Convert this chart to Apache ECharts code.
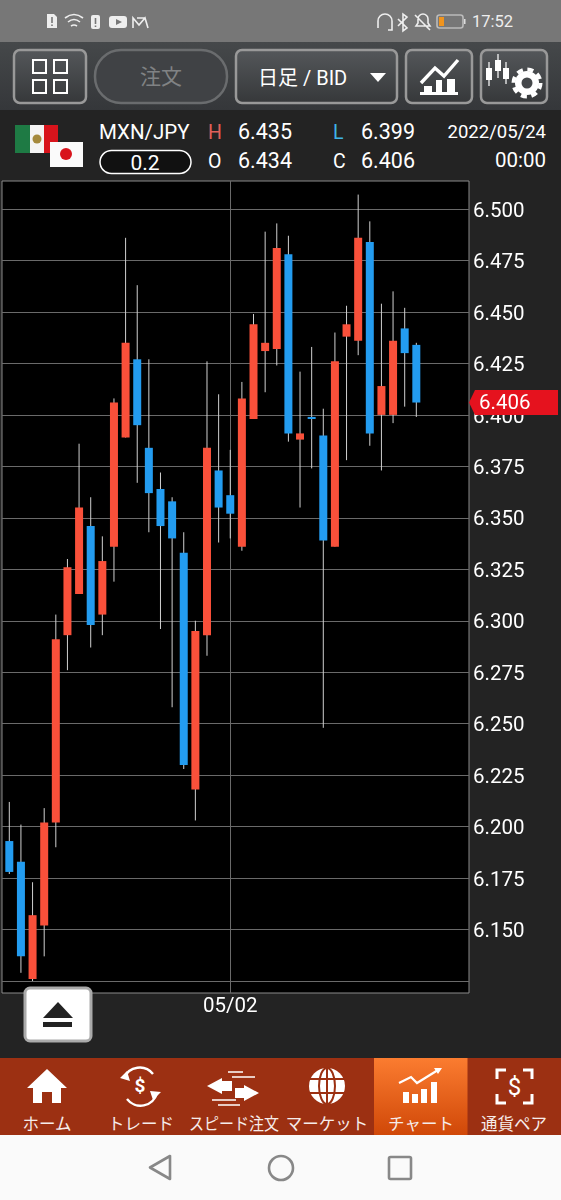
<!DOCTYPE html>
<html>
<head>
<meta charset="utf-8">
<title>MXN/JPY</title>
<script src="https://cdn.jsdelivr.net/npm/echarts@6/dist/echarts.min.js"></script>
<style>
html,body{margin:0;padding:0;background:#222;}
#page{position:relative;width:561px;height:1200px;overflow:hidden;}
#chrome,#main,#eject{position:absolute;left:0;top:0;width:561px;height:1200px;}
#main{z-index:1;}
#eject{z-index:2;pointer-events:none;}
text{font-family:Roboto,"Noto Sans CJK JP",sans-serif;}
</style>
</head>
<body>
<div id="page">
<svg id="chrome" width="561" height="1200" viewBox="0 0 561 1200">
  <defs>
    <linearGradient id="btn" x1="0" y1="0" x2="0" y2="1"><stop offset="0" stop-color="#54575a"/><stop offset="1" stop-color="#36383a"/></linearGradient>
    <linearGradient id="bar" x1="0" y1="0" x2="0" y2="1"><stop offset="0" stop-color="#45484a"/><stop offset="1" stop-color="#35373a"/></linearGradient>
    <linearGradient id="active" x1="0" y1="0" x2="0" y2="1"><stop offset="0" stop-color="#fb7c30"/><stop offset="1" stop-color="#d04808"/></linearGradient>
  </defs>
  <rect x="0" y="0" width="561" height="1200" fill="#232323"/>
  <!-- ステータスバー -->
  <rect x="0" y="0" width="561" height="42" fill="#777"/>
  <g fill="#eee" stroke="none">
    <path d="M47 14h7l3 3v11h-10z"/><rect x="91" y="15" width="9" height="14" rx="2"/>
    <rect x="109" y="16" width="18" height="12" rx="3"/>
  </g>
  <path d="M51.2 17h1.6v6h-1.6zM51.2 24.5h1.6v1.6h-1.6zM94.7 18h1.6v6h-1.6zM94.7 25.5h1.6v1.6h-1.6z" fill="#777"/>
  <path d="M116 19l6 3-6 3z" fill="#777"/>
  <g fill="none" stroke="#eee" stroke-width="1.6">
    <path d="M65 18q9-7 18 0M68 22q6-5 12 0M71 26q3-2 6 0"/>
    <path d="M133 28v-10l6 7 6-7 3 10M137 18l8 0"/>
    <path d="M378 28v-7a7 7 0 0 1 14 0v7M392 26v4h-4"/>
    <path d="M398 19l9 9-4 3v-17l4 3-9 9"/>
    <path d="M416 26h14l-2-3v-4a5 5 0 0 0-10 0v4zM415 15l15 15"/>
    <rect x="437" y="15" width="26" height="13" rx="2.5" stroke="#bbb"/>
  </g>
  <rect x="439" y="17" width="5" height="9" fill="#f0941e"/>
  <rect x="464" y="19" width="1.5" height="5" fill="#ddd"/>
  <text x="472" y="27" font-size="16.5" fill="#eee">17:52</text>

  <!-- ツールバー -->
  <rect x="0" y="42" width="561" height="68" fill="url(#bar)"/>
  <g fill="url(#btn)" stroke="#999" stroke-width="2.5">
    <rect x="14" y="50" width="72" height="53" rx="6"/>
    <rect x="95" y="50" width="132" height="53" rx="26" stroke="#6a6c6e" fill="#404245"/>
    <rect x="236" y="50" width="161" height="53" rx="6"/>
    <rect x="406" y="50" width="66" height="53" rx="6"/>
    <rect x="481" y="50" width="66" height="53" rx="6"/>
  </g>
  <g fill="none" stroke="#fff" stroke-width="2">
    <rect x="33" y="60" width="13" height="13"/><rect x="54" y="60" width="13" height="13"/>
    <rect x="33" y="80" width="13" height="13"/><rect x="54" y="80" width="13" height="13"/>
  </g>
  <text x="161" y="84" font-size="21" fill="#808284" text-anchor="middle">注文</text>
  <text x="258" y="84.5" font-size="20" fill="#fff">日足 / BID</text>
  <path d="M370 73h16l-8 9z" fill="#fff"/>
  <!-- チャートアイコン -->
  <path d="M421 83l14-15 9 8 14-16" fill="none" stroke="#fff" stroke-width="3.4"/>
  <path d="M420 92h38v3h-38zM424 86h8v6h-8zM436 80h6v12h-6zM447 79h8v13h-8z" fill="#fff"/>
  <!-- 設定アイコン -->
  <g fill="#fff">
    <rect x="486" y="68" width="6" height="12"/><rect x="488.4" y="62" width="1.2" height="24"/>
    <rect x="495" y="60" width="6" height="11"/><rect x="497.4" y="54" width="1.2" height="24"/>
    <rect x="503" y="68" width="6" height="11"/><rect x="505.4" y="62" width="1.2" height="22"/>
    <circle cx="527" cy="83" r="12"/>
  </g>
  <circle cx="527" cy="83" r="13.5" fill="none" stroke="#fff" stroke-width="4" stroke-dasharray="6 4.6"/>
  <circle cx="527" cy="83" r="5.5" fill="#44474a"/>

  <!-- レート情報 -->
  <rect x="15" y="125" width="15" height="28" fill="#1e7a44"/>
  <rect x="30" y="125" width="14" height="28" fill="#f4f4f4"/>
  <rect x="44" y="125" width="14" height="28" fill="#d8141c"/>
  <circle cx="37" cy="139" r="4.5" fill="#a4893c"/>
  <rect x="50" y="142" width="33" height="25" fill="#fafafa"/>
  <circle cx="66" cy="154" r="6" fill="#d8141c"/>
  <text x="99" y="139" font-size="20.5" fill="#fff">MXN/JPY</text>
  <rect x="100" y="150.5" width="91" height="23" rx="11.5" fill="#111" stroke="#fff" stroke-width="1.5"/>
  <text x="145" y="169.5" font-size="21" fill="#fff" text-anchor="middle">0.2</text>
  <text x="208" y="138.5" font-size="19.5" fill="#e0605a">H</text>
  <text x="238" y="138.5" font-size="21.5" fill="#fff">6.435</text>
  <text x="333" y="138.5" font-size="19.5" fill="#3fb4e8">L</text>
  <text x="361" y="138.5" font-size="21.5" fill="#fff">6.399</text>
  <text x="546" y="137.5" font-size="18.5" fill="#fff" text-anchor="end">2022/05/24</text>
  <text x="208" y="168" font-size="19.5" fill="#fff">O</text>
  <text x="238" y="168" font-size="21.5" fill="#fff">6.434</text>
  <text x="333" y="168" font-size="19.5" fill="#fff">C</text>
  <text x="361" y="168" font-size="21.5" fill="#fff">6.406</text>
  <text x="546" y="167" font-size="20.5" fill="#fff" text-anchor="end">00:00</text>

  <!-- ナビゲーション -->
  <rect x="0" y="1058" width="561" height="77" fill="#9c3012"/>
  <rect x="374" y="1058" width="93.5" height="77" fill="url(#active)"/>
  <path d="M47 1069l20 19h-6v15h-9v-11h-10v11h-9v-15h-6z" fill="#fff"/>
  <path d="M207 1086l15-8v3h10v10h-10v3zM259 1093l-15-8v3h-9v10h9v3z" fill="#fff"/>
  <g fill="#fff">
    <rect x="403" y="1092" width="6" height="11"/><rect x="412" y="1094" width="6" height="9"/>
    <rect x="421" y="1089" width="6" height="14"/><rect x="431" y="1082" width="6" height="21"/>
  </g>
  <circle cx="327" cy="1086" r="18" fill="#fff"/>
  <g fill="none" stroke="#9c3012" stroke-width="2">
    <ellipse cx="327" cy="1086" rx="8" ry="18"/>
    <path d="M327 1068v36M308 1079h38M308 1093h38"/>
  </g>
  <g fill="none" stroke="#fff" stroke-width="2.4">
    <path d="M124 1078a17 17 0 0 1 29-4M157 1093a17 17 0 0 1-30 6"/>
    <path d="M228 1072h15M232 1077h23M212 1100h24M218 1105h22" stroke-width="1.4"/>
    <path d="M399 1083l12-6 6 6 21-13" stroke-width="2.2"/>
    <path d="M497 1079v-9h9M532 1079v-9h-9M497 1094v9h9M532 1094v9h-9" stroke-width="3"/>
  </g>
  <path d="M120 1078l7-7 3 10zM161 1092l-8 8-3-9zM442 1068l-8 0 4 6z" fill="#fff"/>
  <text x="140" y="1092" font-size="19" fill="#fff" text-anchor="middle" font-weight="bold">$</text>
  <text x="514.5" y="1095" font-size="24" fill="#fff" text-anchor="middle">$</text>
  <g font-size="16.5" fill="#f6ecea" text-anchor="middle">
    <text x="47" y="1130">ホーム</text>
    <text x="141" y="1130">トレード</text>
    <text x="234" y="1130" textLength="90" lengthAdjust="spacingAndGlyphs">スピード注文</text>
    <text x="327" y="1130">マーケット</text>
    <text x="421" y="1130">チャート</text>
    <text x="514" y="1130">通貨ペア</text>
  </g>
  <rect x="0" y="1135" width="561" height="65" fill="#fafafa"/>
  <g fill="none" stroke="#888" stroke-width="2.6" stroke-linejoin="round">
    <path d="M170 1156v23l-20-11.5z"/>
    <circle cx="281" cy="1168" r="12"/>
    <rect x="389" y="1157" width="22" height="22" rx="1.5"/>
  </g>
</svg>

<div id="main"></div>

<svg id="eject" width="561" height="1200" viewBox="0 0 561 1200">
  <rect x="25" y="988" width="66" height="53" rx="5" fill="#fff" stroke="#aaa" stroke-width="3"/>
  <path d="M58 1002l15 16h-30zM43 1022h29v5h-29z" fill="#222"/>
</svg>
</div>

<script>
// 日足の日付
var categories = ['04/05','04/06','04/07','04/08','04/11','04/12','04/13','04/14','04/15','04/18','04/19','04/20',
    '04/21','04/22','04/25','04/26','04/27','04/28','04/29','05/02','05/03','05/04','05/05','05/06','05/09','05/10',
    '05/11','05/12','05/13','05/16','05/17','05/18','05/19','05/20','05/23','05/24'];
// 四本値
var opens = [6.193,6.183,6.126,6.152,6.202,6.293,6.313,6.346,6.303,6.336,6.389,6.427,
    6.384,6.364,6.358,6.333,6.218,6.293,6.373,6.361,6.336,6.398,6.431,6.432,6.478,6.388,
    6.399,6.390,6.336,6.438,6.436,6.484,6.400,6.400,6.442,6.434];
var closes = [6.178,6.137,6.157,6.202,6.291,6.326,6.355,6.298,6.329,6.406,6.435,6.395,
    6.362,6.346,6.340,6.230,6.295,6.384,6.355,6.352,6.408,6.444,6.435,6.481,6.391,6.391,
    6.398,6.339,6.426,6.444,6.486,6.391,6.414,6.436,6.430,6.406];
var lows = [6.177,6.129,6.125,6.137,6.190,6.276,6.313,6.287,6.293,6.319,6.389,6.367,
    6.343,6.296,6.258,6.228,6.203,6.283,6.338,6.340,6.334,6.398,6.411,6.424,6.387,6.355,
    6.374,6.248,6.336,6.378,6.429,6.385,6.373,6.396,6.404,6.399];
var highs = [6.212,6.201,6.173,6.209,6.303,6.330,6.386,6.360,6.341,6.408,6.486,6.463,
    6.427,6.372,6.360,6.343,6.300,6.426,6.410,6.383,6.416,6.449,6.489,6.493,6.487,6.421,
    6.433,6.403,6.440,6.453,6.507,6.494,6.454,6.460,6.452,6.435];
// 目盛り
var gridValues = [6.125,6.150,6.175,6.200,6.225,6.250,6.275,6.300,6.325,6.350,6.375,6.400,6.425,6.450,6.475,6.500];
var tickLabels = [6.150,6.175,6.200,6.225,6.250,6.275,6.300,6.325,6.350,6.375,6.400,6.425,6.450,6.475,6.500];
var dateTicks = [19];
var lastPrice = 6.406;

var UP_COLOR = '#f9503a';
var DOWN_COLOR = '#239cf0';
var BODY_WIDTH = 8;

var rows = categories.map(function (c, i) {
    return [i, opens[i], closes[i], lows[i], highs[i]];
});

// ローソク足の描画
function renderCandle(params, api) {
    var x = api.value(0);
    var o = api.coord([x, api.value(1)]);
    var c = api.coord([x, api.value(2)]);
    var l = api.coord([x, api.value(3)]);
    var h = api.coord([x, api.value(4)]);
    var color = api.value(2) >= api.value(1) ? UP_COLOR : DOWN_COLOR;
    var top = Math.min(o[1], c[1]);
    var bodyH = Math.max(Math.abs(o[1] - c[1]), 2);
    return {
        type: 'group',
        children: [
            {type: 'line', shape: {x1: o[0], y1: h[1], x2: o[0], y2: l[1]}, style: {stroke: '#d0d0d0', lineWidth: 1}},
            {type: 'rect', shape: {x: o[0] - BODY_WIDTH / 2, y: top, width: BODY_WIDTH, height: bodyH}, style: {fill: color}}
        ]
    };
}

var myChart = echarts.init(document.getElementById('main'), null, {renderer: 'canvas'});
myChart.setOption({
    animation: false,
    backgroundColor: 'transparent',
    grid: {show: true, left: 2, top: 181, width: 467, height: 812, backgroundColor: '#000', borderColor: '#8a8a8a', borderWidth: 1},
    xAxis: {
        type: 'value',
        min: -0.628,
        max: 39.53,
        axisLine: {show: false},
        axisTick: {show: false, customValues: dateTicks},
        splitLine: {show: true, lineStyle: {color: '#6a6a6a', width: 1}},
        axisLabel: {
            customValues: dateTicks,
            margin: 3,
            color: '#fff',
            fontSize: 20.5,
            fontFamily: 'Roboto',
            formatter: function (v) { return categories[v]; }
        }
    },
    yAxis: {
        type: 'value',
        position: 'right',
        min: 6.1192,
        max: 6.5136,
        axisLine: {show: false},
        axisTick: {show: false, customValues: gridValues},
        splitLine: {show: true, lineStyle: {color: '#6a6a6a', width: 1}},
        axisLabel: {
            customValues: tickLabels,
            margin: 4,
            formatter: function (v) { return '{p|' + v.toFixed(3) + '}'; },
            rich: {p: {color: '#fff', fontSize: 20.5, fontFamily: 'Roboto', padding: [5, 0, 0, 0]}}
        }
    },
    series: [{
        type: 'custom',
        renderItem: renderCandle,
        encode: {x: 0, y: [1, 2, 3, 4]},
        data: rows,
        clip: true
    }]
});

// 現在値タグ
var tagY = myChart.convertToPixel({yAxisIndex: 0}, lastPrice);
myChart.setOption({
    graphic: [
        {type: 'polygon', z: 100, shape: {points: [[469, tagY], [475, tagY - 12.5], [558, tagY - 12.5], [558, tagY + 12.5], [475, tagY + 12.5]]}, style: {fill: '#e5121e'}},
        {type: 'text', z: 101, x: 479, y: tagY + 1, style: {text: lastPrice.toFixed(3), fill: '#fff', font: '20.5px Roboto', verticalAlign: 'middle'}}
    ]
});
</script>
</body>
</html>
